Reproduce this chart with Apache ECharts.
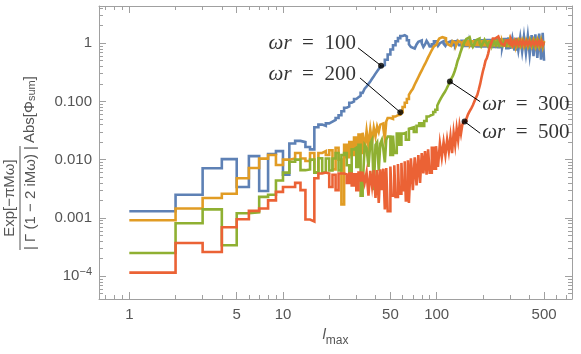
<!DOCTYPE html>
<html>
<head>
<meta charset="utf-8">
<script src="https://cdn.jsdelivr.net/npm/echarts@6/dist/echarts.min.js"></script>
<style>
  html, body { margin: 0; padding: 0; background: #fff; }
  #chart { width: 581px; height: 354px; }
</style>
</head>
<body>
<div id="chart"></div>
<script>
// tick values and labels
const xMajor = [1, 5, 10, 50, 100, 500];
const xMajorLabels = ['1', '5', '10', '50', '100', '500'];
const xMinor = [0.7, 0.8, 0.9, 2, 3, 4, 6, 7, 8, 9, 20, 30, 40, 60, 70, 80, 90, 200, 300, 400, 600, 700];
const yMajor = [1e-4, 1e-3, 1e-2, 0.1, 1];
const yMajorLabels = ['10{sup|−4}', '0.001', '0.010', '0.100', '1'];
const yMinor = [5e-5, 6e-5, 7e-5, 8e-5, 9e-5,
  2e-4, 3e-4, 4e-4, 5e-4, 6e-4, 7e-4, 8e-4, 9e-4,
  2e-3, 3e-3, 4e-3, 5e-3, 6e-3, 7e-3, 8e-3, 9e-3,
  0.02, 0.03, 0.04, 0.05, 0.06, 0.07, 0.08, 0.09,
  0.2, 0.3, 0.4, 0.5, 0.6, 0.7, 0.8, 0.9, 2, 3, 4];

// [l_max, value] for each omega*r
const wr100 = [[1,1.3e-3],[2,2.5e-3],[3,7.1e-3],[4,1.02e-2],[5,3.4e-3],[6,1.15e-2],[7,2.9e-3],[8,1.25e-2],[9,1.4e-2],[10,5.5e-3],
  [11,1.9e-2],[12,2.1e-2],[13,2.0e-2],[14,1.65e-2],[15,1.5e-2],[16,3.6e-2],[17,4.0e-2],[18,3.8e-2],[19,4.2e-2],[20,4.5e-2],
  [21,4.8e-2],[22,5.2e-2],[23,5.8e-2],[24,6.8e-2],[25,7.8e-2],[26,8.2e-2],[27,9.5e-2],[28,0.1],[29,0.11],[30,0.118],
  [31,0.125],[32,0.14],[33,0.15],[34,0.165],[35,0.18],[36,0.2],[37,0.22],[38,0.245],[39,0.27],[40,0.3],[41,0.33],[42,0.36],
  [43,0.39],[44,0.42],[46,0.52],[48,0.64],[50,0.78],[52,0.92],[54,1.08],[56,1.22],[58,1.33],[60,1.37],[62,1.3],[64,1.12],
  [66,0.96],[68,0.86],[70,0.81],[72,0.84],[74,0.95],[76,1.06],[78,1.12],[80,1.0],[82,0.86],[84,0.95],[86,1.1],[88,1.0],
  [90,0.88],[93,0.96],[96,1.08],[99,1.0],[102,0.9],[105,1.0],[108,1.08],[111,0.98],[114,0.9],[117,1.02],[120,1.08],
  [124,0.92],[128,1.08],[132,0.92],[136,1.08],[140,0.92],[145,1.1],[150,0.9],[155,1.1],[160,0.9],[165,1.1],[170,0.9],
  [176,1.12],[182,0.88],[188,1.12],[194,0.88],[200,1.12],[207,0.88],[214,1.13],[221,0.87],[228,1.13],[235,0.86],
  [243,1.15],[251,0.85],[259,1.16],[267,0.84],[275,1.18],[284,0.82],[293,1.2],[302,0.8],[311,1.22],[320,0.78],
  [330,1.24],[340,0.75],[350,1.26],[360,0.72],[370,1.3],[381,0.68],[392,1.33],[403,0.64],[415,1.37],[427,0.6],
  [439,1.42],[452,0.56],[465,1.46],[478,0.52],[490,1.5],[500,0.5]];

const wr200 = [[1,9.1e-4],[2,1.45e-3],[3,2.2e-3],[4,2.6e-3],[5,4.8e-3],[6,7.2e-3],[7,1.04e-2],[8,1.2e-2],[9,8.1e-3],[10,1.0e-2],
  [11,1.05e-2],[12,1.3e-2],[13,1.05e-2],[14,9.5e-3],[15,1.3e-2],[16,6.0e-3],[17,1.3e-2],[18,1.4e-2],[19,1.2e-2],[20,1.45e-2],
  [21,6.8e-3],[22,1.6e-2],[23,1.0e-2],[24,1.7e-3],[25,1.8e-2],[26,1.1e-2],[27,2.0e-2],[28,1.2e-2],[29,2.4e-2],[30,1.3e-2],
  [31,2.7e-2],[32,1.3e-2],[33,2.9e-2],[34,1.5e-2],[35,3.1e-2],[36,1.7e-2],[37,3.3e-2],[38,2.0e-2],[39,3.5e-2],[40,2.5e-2],
  [41,3.7e-2],[42,3.0e-2],[43,4.0e-2],[44,4.2e-2],[45,3.4e-2],[46,2.3e-2],[47,4.5e-2],[48,5.2e-2],[50,5.0e-2],[52,5.5e-2],
  [54,5.8e-2],[56,5.9e-2],[58,6.5e-2],[60,8.0e-2],[62,9.5e-2],[64,0.11],[66,0.13],[68,0.148],[70,0.165],[72,0.195],
  [74,0.225],[76,0.26],[78,0.3],[80,0.34],[82,0.39],[84,0.44],[86,0.5],[88,0.57],[90,0.64],[92,0.72],[94,0.8],[96,0.88],
  [98,0.95],[100,1.0],[102,1.1],[104,1.2],[106,1.27],[109,1.3],[112,1.22],[115,1.08],[118,0.96],[121,0.9],[124,0.96],
  [127,1.08],[130,1.0],[134,0.92],[138,1.1],[142,1.02],[146,0.92],[150,1.08],[155,0.93],[160,1.08],[165,0.94],[170,1.08],
  [176,0.93],[182,1.08],[188,0.93],[194,1.08],[200,0.92],[207,1.08],[214,0.92],[221,1.08],[228,0.92],[235,1.09],
  [243,0.92],[251,1.09],[259,0.91],[267,1.1],[275,0.91],[284,1.1],[293,0.9],[302,1.1],[311,0.9],[320,1.1],[330,0.9],
  [340,1.12],[350,0.9],[360,1.12],[370,0.88],[381,1.12],[392,0.88],[403,1.13],[415,0.88],[427,1.13],[439,0.87],
  [452,1.14],[465,0.87],[478,1.14],[490,0.86],[500,1.1]];

const wr300 = [[1,2.5e-4],[2,8.1e-4],[3,1.4e-3],[4,3.4e-4],[5,1.2e-3],[6,1.25e-3],[7,2.3e-3],[8,2.5e-3],[9,4.4e-3],[10,6.0e-3],
  [11,9.2e-3],[12,1.0e-2],[13,6.6e-3],[14,6.8e-3],[15,1.0e-2],[16,6.0e-3],[17,1.06e-2],[18,6.0e-3],[19,1.05e-2],[20,6.5e-3],
  [21,1.05e-2],[22,1.3e-2],[23,6.5e-3],[24,1.2e-2],[25,1.3e-2],[26,8.0e-3],[27,4.8e-3],[28,1.5e-2],[29,1.6e-2],[30,7.5e-3],
  [31,1.8e-2],[32,2.4e-3],[33,3.4e-3],[34,1.8e-2],[35,1.6e-2],[36,7.5e-3],[37,1.9e-2],[38,2.2e-2],[39,3.0e-3],[40,1.8e-2],
  [41,2.0e-2],[42,6.5e-3],[43,1.9e-2],[44,2.2e-2],[45,1.5e-2],[46,9.0e-3],[47,2.2e-2],[48,2.5e-2],[50,1.2e-2],[52,2.6e-2],
  [53,1.3e-2],[55,2.8e-2],[57,1.8e-2],[59,2.8e-2],[61,2.9e-2],[63,2.2e-2],[66,3.4e-2],[68,3.6e-2],[71,3.0e-2],[74,3.8e-2],
  [77,4.2e-2],[80,3.8e-2],[83,4.6e-2],[86,5.5e-2],[89,5.8e-2],[92,6.0e-2],[95,6.6e-2],[98,7.2e-2],[101,8.5e-2],[104,0.1],
  [107,0.115],[110,0.13],[113,0.145],[116,0.165],[119,0.19],[122,0.22],[125,0.25],[128,0.28],[131,0.33],[134,0.4],
  [137,0.5],[140,0.58],[143,0.7],[146,0.82],[149,0.94],[152,1.04],[156,1.18],[160,1.27],[164,1.18],[168,0.98],[172,0.86],
  [176,0.96],[180,1.12],[185,1.2],[190,1.02],[195,0.88],[200,1.0],[205,1.15],[210,1.02],[215,0.9],[220,1.04],[225,1.12],
  [231,0.93],[237,1.08],[243,0.92],[249,1.08],[255,0.92],[262,1.08],[269,0.92],[276,1.08],[284,0.92],[292,1.08],
  [300,0.92],[308,1.09],[317,0.91],[326,1.09],[335,0.91],[345,1.1],[355,0.9],[365,1.1],[375,0.9],[386,1.1],[397,0.9],
  [408,1.1],[420,0.9],[432,1.1],[444,0.9],[456,1.1],[468,0.9],[480,1.1],[490,0.9],[500,1.05]];

const wr500 = [[1,1.15e-4],[2,3.7e-4],[3,2.6e-4],[4,6.9e-4],[5,9.5e-4],[6,1.32e-3],[7,1.45e-3],[8,2.0e-3],[9,2.8e-3],[10,3.4e-3],
  [11,3.4e-3],[12,4.0e-3],[13,3.0e-3],[14,9.4e-4],[15,8.7e-4],[16,4.8e-3],[17,5.8e-3],[18,6.0e-3],[19,5.8e-3],[20,3.4e-3],
  [21,5.5e-3],[22,3.0e-3],[23,5.8e-3],[24,5.8e-3],[25,5.6e-3],[26,4.0e-3],[27,5.8e-3],[28,3.6e-3],[29,5.6e-3],[30,3.0e-3],
  [31,6.0e-3],[32,4.4e-3],[33,6.2e-3],[34,4.0e-3],[35,6.0e-3],[36,2.4e-3],[37,6.4e-3],[38,3.5e-3],[39,6.6e-3],[40,2.2e-3],
  [41,6.6e-3],[42,1.8e-3],[43,6.8e-3],[44,3.0e-3],[45,7.0e-3],[46,1.4e-3],[47,7.2e-3],[48,1.3e-3],[50,7.6e-3],[51,2.4e-3],
  [53,8.0e-3],[54,2.3e-3],[56,8.4e-3],[57,2.6e-3],[59,8.8e-3],[60,3.0e-3],[62,9.4e-3],[63,2.0e-3],[65,9.8e-3],[66,1.8e-3],
  [68,1.05e-2],[70,3.0e-3],[72,1.1e-2],[74,3.6e-3],[76,1.2e-2],[78,4.0e-3],[80,1.3e-2],[82,5.8e-3],[84,1.4e-2],[86,5.5e-3],
  [88,1.5e-2],[90,6.0e-3],[93,1.6e-2],[96,7.0e-3],[99,1.7e-2],[102,7.5e-3],[105,1.9e-2],[108,1.1e-2],[111,2.0e-2],
  [114,1.2e-2],[117,2.2e-2],[120,1.4e-2],[123,2.5e-2],[126,1.3e-2],[129,2.9e-2],[132,1.8e-2],[135,3.4e-2],[138,2.2e-2],
  [141,3.9e-2],[144,2.8e-2],[147,4.0e-2],[150,4.5e-2],[153,4.6e-2],[156,5.0e-2],[160,6.0e-2],[164,6.8e-2],[168,7.6e-2],
  [172,8.6e-2],[176,0.1],[180,0.115],[184,0.13],[188,0.16],[192,0.2],[196,0.26],[200,0.33],[204,0.4],[208,0.5],[212,0.55],
  [216,0.65],[220,0.8],[224,0.93],[228,1.05],[232,1.2],[240,1.28],[246,1.3],[252,1.22],[258,1.1],[264,0.98],[270,0.92],
  [276,0.98],[282,1.1],[288,1.12],[294,1.0],[300,0.93],[306,1.1],[313,0.93],[320,1.1],[327,0.93],[334,1.09],[342,0.93],
  [350,1.09],[358,0.93],[366,1.09],[375,0.93],[384,1.08],[393,0.93],[402,1.08],[412,0.93],[422,1.08],[432,0.93],
  [442,1.08],[452,0.93],[462,1.08],[472,0.93],[482,1.08],[491,0.93],[500,1.05]];

// annotations: label text, point on curve, end of leader, text anchor
const annoLabels = ['{i|ωr}  =  100', '{i|ωr}  =  200', '{i|ωr}  =  300', '{i|ωr}  =  500'];
const annoDots = [[43.5, 0.41], [58, 0.065], [122, 0.22], [152, 0.045]];
const annoEnds = [[30.8, 0.83], [31.7, 0.253], [192, 0.099], [192, 0.0284]];
const annoText = [[30.3, 0.99], [30.3, 0.285], [195, 0.09], [195, 0.0298]];

const colors = ['#5E81B5', '#E19C24', '#8FB032', '#EB6235'];
const frameColor = '#a0a0a0';
const labelColor = '#555';

function pickLabel(v, ticks, labels) {
  for (let i = 0; i < ticks.length; i++) {
    if (Math.abs(Math.log10(v / ticks[i])) < 1e-6) return labels[i];
  }
  return '';
}

function logAxis(pos, min, max, ticks, len, line, labels) {
  const ax = {
    type: 'log', logBase: 10, min: min, max: max, position: pos,
    axisLine: { show: line, lineStyle: { color: frameColor, width: 1 } },
    axisTick: { show: true, inside: true, length: len, customValues: ticks,
      lineStyle: { color: frameColor, width: 1 } },
    axisLabel: { show: false },
    splitLine: { show: false },
    minorTick: { show: false }
  };
  if (labels) {
    ax.axisLabel = {
      show: true, customValues: ticks, color: labelColor,
      fontFamily: 'Liberation Sans', fontSize: 15,
      formatter: v => pickLabel(v, ticks, labels),
      rich: {
        sup: { fontFamily: 'Liberation Sans', fontSize: 11, color: labelColor,
          verticalAlign: 'bottom', padding: [0, 0, 8, 0] }
      }
    };
  }
  return ax;
}

const xMin = 0.635, xMax = 760, yMin = 4.05e-5, yMax = 4.35;

const xAxes = [
  logAxis('bottom', xMin, xMax, xMajor, 7, true, xMajorLabels),
  logAxis('bottom', xMin, xMax, xMinor, 4, false, null),
  logAxis('top', xMin, xMax, xMajor, 7, true, null),
  logAxis('top', xMin, xMax, xMinor, 4, false, null)
];
xAxes[0].axisLabel.margin = 8;
xAxes[0].name = '{i|l}{s|max}';
xAxes[0].nameLocation = 'middle';
xAxes[0].nameGap = 28;
xAxes[0].nameTextStyle = {
  rich: {
    i: { fontFamily: 'Liberation Sans', fontStyle: 'italic', fontSize: 15, color: labelColor, verticalAlign: 'bottom', padding: [0, 0, 5, 0] },
    s: { fontFamily: 'Liberation Sans', fontSize: 12, color: labelColor, verticalAlign: 'bottom' }
  }
};

const yAxes = [
  logAxis('left', yMin, yMax, yMajor, 7, true, yMajorLabels),
  logAxis('left', yMin, yMax, yMinor, 4, false, null),
  logAxis('right', yMin, yMax, yMajor, 7, true, null),
  logAxis('right', yMin, yMax, yMinor, 4, false, null)
];
yAxes[0].axisLabel.margin = 7;

const curveSeries = [wr100, wr200, wr300, wr500].map((d, i) => ({
  type: 'line', step: 'end', data: d, showSymbol: false, symbol: 'none',
  xAxisIndex: 0, yAxisIndex: 0, z: 2,
  lineStyle: { color: colors[i], width: 2.6, join: 'miter' },
  emphasis: { disabled: true }
}));

const leaderSeries = annoDots.map((p, i) => ({
  type: 'line', data: [p, annoEnds[i]], showSymbol: false, symbol: 'none',
  xAxisIndex: 0, yAxisIndex: 0, z: 5,
  lineStyle: { color: '#000', width: 1 }
}));

const dotSeries = {
  type: 'scatter', data: annoDots, symbol: 'circle', symbolSize: 6,
  xAxisIndex: 0, yAxisIndex: 0, z: 6,
  itemStyle: { color: '#000' }
};

const textSeries = {
  type: 'scatter', symbolSize: 2, xAxisIndex: 0, yAxisIndex: 0, z: 7,
  itemStyle: { color: 'rgba(0,0,0,0)' },
  labelLayout: { hideOverlap: false },
  data: annoText.map((p, i) => ({
    value: p,
    label: {
      show: true, position: i < 2 ? 'left' : 'right', distance: 0,
      formatter: annoLabels[i], color: '#000',
      fontFamily: 'Liberation Serif', fontSize: 21,
      rich: { i: { fontFamily: 'Liberation Serif', fontStyle: 'italic', fontSize: 21, color: '#000' } }
    }
  }))
};

const titleFont = { fontFamily: 'Liberation Sans', fontSize: 15, fill: labelColor };

const chart = echarts.init(document.getElementById('chart'), null, { renderer: 'canvas' });
chart.setOption({
  animation: false,
  backgroundColor: '#fff',
  grid: { left: 99, right: 9, top: 6, bottom: 55, containLabel: false },
  xAxis: xAxes,
  yAxis: yAxes,
  series: curveSeries.concat(leaderSeries, [dotSeries, textSeries]),
  graphic: [{
    type: 'group', x: 20, y: 198, rotation: Math.PI / 2,
    children: [
      { type: 'line', shape: { x1: -52, y1: 0, x2: 52, y2: 0 }, style: { stroke: labelColor, lineWidth: 1 } },
      { type: 'text', x: 0, y: -3, style: Object.assign({ text: 'Exp[−πMω]', align: 'center', verticalAlign: 'bottom' }, titleFont) },
      { type: 'text', x: 0, y: 3, style: Object.assign({ text: '| Γ (1 − 2 iMω) |', align: 'center', verticalAlign: 'top' }, titleFont) },
      { type: 'text', x: 55, y: 10, style: Object.assign({
          text: 'Abs[Φ{s|sum}]', align: 'left', verticalAlign: 'middle',
          rich: { s: { fontFamily: 'Liberation Sans', fontSize: 11, fill: labelColor, verticalAlign: 'bottom' } } }, titleFont) }
    ]
  }]
});
</script>
</body>
</html>
